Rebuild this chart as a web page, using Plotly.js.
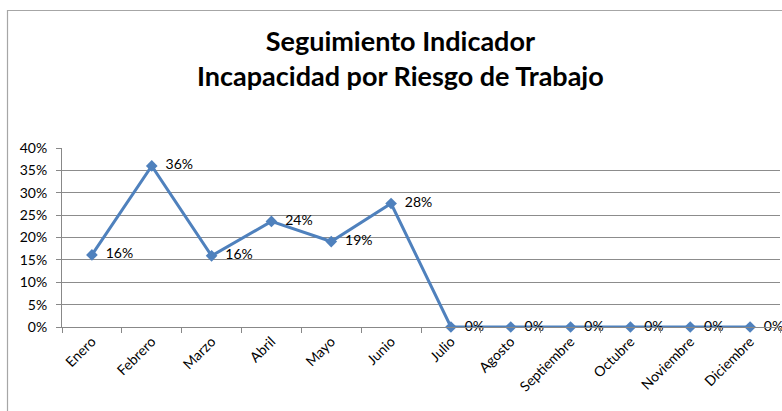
<!DOCTYPE html>
<html>
<head>
<meta charset="utf-8">
<script src="https://cdn.plot.ly/plotly-3.0.1.min.js"></script>
<style>
  html, body { margin: 0; padding: 0; background: #fff; }
  #chart { width: 782px; height: 411px; }
</style>
</head>
<body>
<div id="chart"></div>
<script>
const months = ["Enero", "Febrero", "Marzo", "Abril", "Mayo", "Junio", "Julio",
                "Agosto", "Septiembre", "Octubre", "Noviembre", "Diciembre"];
const values = [0.161, 0.36, 0.159, 0.236, 0.191, 0.276, 0, 0, 0, 0, 0, 0];
const yTickVals = [0, 0.05, 0.10, 0.15, 0.20, 0.25, 0.30, 0.35, 0.40];

const font = "Lato, 'Open Sans', 'Liberation Sans', sans-serif";

const trace = {
  x: months,
  y: values,
  type: "scatter",
  mode: "lines+markers+text",
  line: { color: "#4F81BD", width: 3 },
  marker: { symbol: "diamond", size: 9, color: "#4F81BD" },
  texttemplate: "  %{y:.0%}",
  textposition: "middle right",
  textfont: { family: font, size: 14, color: "#000" },
  cliponaxis: false,
  hoverinfo: "x+y"
};

const L = 62, R = 2, T = 148, B = 84, W = 782, H = 411;
const pw = W - L - R, ph = H - T - B;
const px = v => (v - L) / pw;
const py = v => (H - B - v) / ph;

const layout = {
  width: W, height: H,
  margin: { l: L, r: R, t: T, b: B },
  paper_bgcolor: "#fff",
  plot_bgcolor: "#fff",
  showlegend: false,
  title: {
    text: "<b>Seguimiento Indicador<br>Incapacidad por Riesgo de Trabajo</b>",
    font: { family: font, size: 27, color: "#000" },
    x: 0.512, xanchor: "center",
    y: 0.875, yanchor: "top"
  },
  xaxis: {
    type: "category",
    tickangle: -45,
    tickson: "boundaries",
    ticks: "outside",
    ticklen: 5,
    tickcolor: "#888",
    showline: true,
    linecolor: "#888",
    linewidth: 1,
    showgrid: false,
    tickfont: { family: font, size: 14, color: "#000" },
    range: [-0.5, 11.5]
  },
  yaxis: {
    range: [0, 0.4],
    tickvals: yTickVals,
    tickformat: ".0%",
    ticks: "outside",
    ticklen: 5,
    tickcolor: "#888",
    ticklabelstandoff: 6,
    showline: true,
    linecolor: "#888",
    linewidth: 1,
    showgrid: true,
    gridcolor: "#8c8c8c",
    gridwidth: 1,
    zeroline: false,
    tickfont: { family: font, size: 14, color: "#000" }
  },
  shapes: [{
    type: "rect", xref: "paper", yref: "paper",
    x0: px(7.5), x1: px(W + 20), y0: py(H + 20), y1: py(10.5),
    line: { color: "#a6a6a6", width: 1.2 }, fillcolor: "rgba(0,0,0,0)",
    layer: "below"
  }]
};

Plotly.newPlot("chart", [trace], layout, { displayModeBar: false, staticPlot: true });
</script>
</body>
</html>
